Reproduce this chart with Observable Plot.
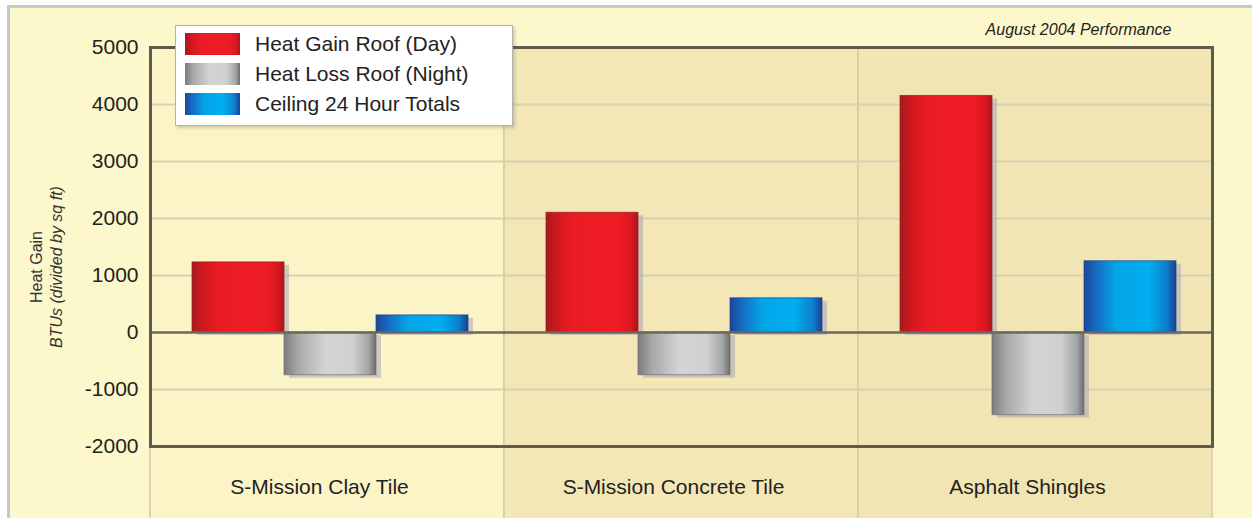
<!DOCTYPE html>
<html>
<head>
<meta charset="utf-8">
<script src="https://cdn.jsdelivr.net/npm/d3@7"></script>
<script src="https://cdn.jsdelivr.net/npm/@observablehq/plot@0.6"></script>
<style>
  body { margin: 0; background: #fff; }
  #chart { position: relative; width: 1252px; height: 518px; overflow: hidden;
           font-family: "Liberation Sans", Arial, sans-serif; }
  #panel { position: absolute; left: 7px; top: 5px; right: 0; bottom: 0; background: #fdf8cb;
           border-top: 3px solid #c8c8c8; border-left: 3px solid #c8c8c8; }
  #chart svg { position: absolute; left: 0; top: 0; }
  .legend { position: absolute; left: 175px; top: 25px; width: 336px; height: 99px; background: #fff;
            border: 1px solid #b3b3b3; box-shadow: 2px 2px 3px rgba(90, 80, 50, .25); }
  .legend .item { position: absolute; left: 9px; height: 22px; display: flex; align-items: center;
                  font-size: 21px; color: #222; white-space: nowrap; }
  .legend .sw { width: 55px; height: 22px; margin-right: 15px; }
</style>
</head>
<body>
<div id="chart"><div id="panel"></div></div>
<script>
// Roof types compared
const categories = ["S-Mission Clay Tile", "S-Mission Concrete Tile", "Asphalt Shingles"];
// Measured series
const series = ["Heat Gain Roof (Day)", "Heat Loss Roof (Night)", "Ceiling 24 Hour Totals"];
// Values per roof type, BTUs divided by sq ft
const heatGainDay = [1230, 2100, 4150];
const heatLossNight = [-750, -750, -1450];
const ceilingTotals = [300, 600, 1250];
// Axis ticks
const yTicks = [-2000, -1000, 0, 1000, 2000, 3000, 4000, 5000];

const title = "August 2004 Performance";
const yTitle = "Heat Gain";
const ySubTitle = "BTUs (divided by sq ft)";

// Gradient ids and edge colours for each series
const seriesStyle = {
  [series[0]]: {id: "g-red", edge: "#8e1a1e", stops: [[0, "#a41b20"], [0.1, "#cc171f"], [0.3, "#ec1c24"], [0.8, "#ee1c25"], [0.93, "#d8171f"], [1, "#a8181c"]]},
  [series[1]]: {id: "g-gray", edge: "#6e6e70", stops: [[0, "#7c7c7e"], [0.15, "#a8a8aa"], [0.45, "#d3d4d6"], [0.75, "#cfd0d2"], [0.92, "#a3a4a6"], [1, "#6c6d6f"]]},
  [series[2]]: {id: "g-blue", edge: "#1b3f8f", stops: [[0, "#1d4798"], [0.12, "#1768c0"], [0.35, "#03a5e8"], [0.7, "#00aeef"], [0.9, "#0d7fcc"], [1, "#1b3f8f"]]}
};
const bandFill = {
  [categories[0]]: "#fbf4c6",
  [categories[1]]: "#f3e7b6",
  [categories[2]]: "#f2e5b4"
};

const valueSets = [heatGainDay, heatLossNight, ceilingTotals];
const rows = categories.flatMap((category, i) =>
  series.map((s, j) => ({category, series: s, value: valueSets[j][i]}))
);

const barMarks = series.flatMap((s) => {
  const data = rows.filter((r) => r.series === s);
  const st = seriesStyle[s];
  return [
    // soft drop shadow to the lower right
    Plot.barY(data, {fx: "category", x: "series", y: "value", fill: "#a9a8b6", fillOpacity: 0.55, dx: 5, dy: 3}),
    Plot.barY(data, {fx: "category", x: "series", y: "value", fill: `url(#${st.id})`, stroke: st.edge, strokeWidth: 1, strokeOpacity: 0.7})
  ];
});

const chart = Plot.plot({
  width: 1252,
  height: 518,
  marginLeft: 149,
  marginRight: 40,
  marginTop: 47,
  marginBottom: 72,
  style: {background: "transparent", fontFamily: "'Liberation Sans', Arial, sans-serif", fontSize: "21px", color: "#222"},
  fx: {domain: categories, padding: 0, axis: null},
  x: {domain: series, paddingInner: 0, paddingOuter: 0.42, align: 0.54, axis: null},
  y: {domain: [-2000, 5000], ticks: yTicks, tickSize: 0, tickPadding: 12, tickFormat: (d) => String(d), label: null},
  color: {type: "identity"},
  marks: [
    // column backgrounds, running down behind the category labels
    Plot.rect(categories, {fx: (d) => d, fill: (d) => bandFill[d], stroke: "#d3cba9", strokeWidth: 1.5, insetBottom: -90}),
    // horizontal grid
    Plot.ruleY(yTicks.filter((t) => t !== 0), {stroke: "#d8d0b0", strokeWidth: 2}),
    ...barMarks,
    // zero baseline
    Plot.ruleY([0], {stroke: "#6d685b", strokeWidth: 2.5}),
    // outer frame: top and bottom in every column, sides only at the ends
    Plot.frame({anchor: "top", stroke: "#5f5a4c", strokeWidth: 3}),
    Plot.frame({anchor: "bottom", stroke: "#5f5a4c", strokeWidth: 3}),
    Plot.frame({anchor: "left", facetAnchor: "left", stroke: "#5f5a4c", strokeWidth: 3}),
    Plot.frame({anchor: "right", facetAnchor: "right", stroke: "#5f5a4c", strokeWidth: 3}),
    // category labels
    Plot.text(categories, {fx: (d) => d, text: (d) => d, frameAnchor: "bottom", lineAnchor: "middle", dy: 41, dx: -8, fontSize: 21, fill: "#222"}),
    // y-axis title, two lines
    Plot.text([yTitle], {text: (d) => d, frameAnchor: "left", textAnchor: "middle", rotate: -90, dx: -114, dy: 20, fontSize: 16, fill: "#333", facetAnchor: "left"}),
    Plot.text([ySubTitle], {text: (d) => d, frameAnchor: "left", textAnchor: "middle", rotate: -90, dx: -94, dy: 20, fontSize: 16, fontStyle: "italic", fill: "#333", facetAnchor: "left"}),
    // chart note, top right
    Plot.text([title], {text: (d) => d, frameAnchor: "top-right", textAnchor: "end", lineAnchor: "middle", dx: -41, dy: -18, fontSize: 16, fontStyle: "italic", fill: "#222", facetAnchor: "right"})
  ]
});

// horizontal shading gradients used by the bars
const defs = d3.select(chart).insert("defs", ":first-child");
for (const s of series) {
  const st = seriesStyle[s];
  const g = defs.append("linearGradient").attr("id", st.id).attr("x1", 0).attr("x2", 1).attr("y1", 0).attr("y2", 0);
  for (const [o, c] of st.stops) g.append("stop").attr("offset", o).attr("stop-color", c);
}

const root = document.getElementById("chart");
root.appendChild(chart);

// legend box
const legend = document.createElement("div");
legend.className = "legend";
series.forEach((s, i) => {
  const st = seriesStyle[s];
  const item = document.createElement("div");
  item.className = "item";
  item.style.top = (7 + i * 30) + "px";
  const sw = document.createElement("div");
  sw.className = "sw";
  sw.style.background = `linear-gradient(to right, ${st.stops.map(([o, c]) => `${c} ${o * 100}%`).join(", ")})`;
  const label = document.createElement("span");
  label.textContent = s;
  item.append(sw, label);
  legend.appendChild(item);
});
root.appendChild(legend);
</script>
</body>
</html>
